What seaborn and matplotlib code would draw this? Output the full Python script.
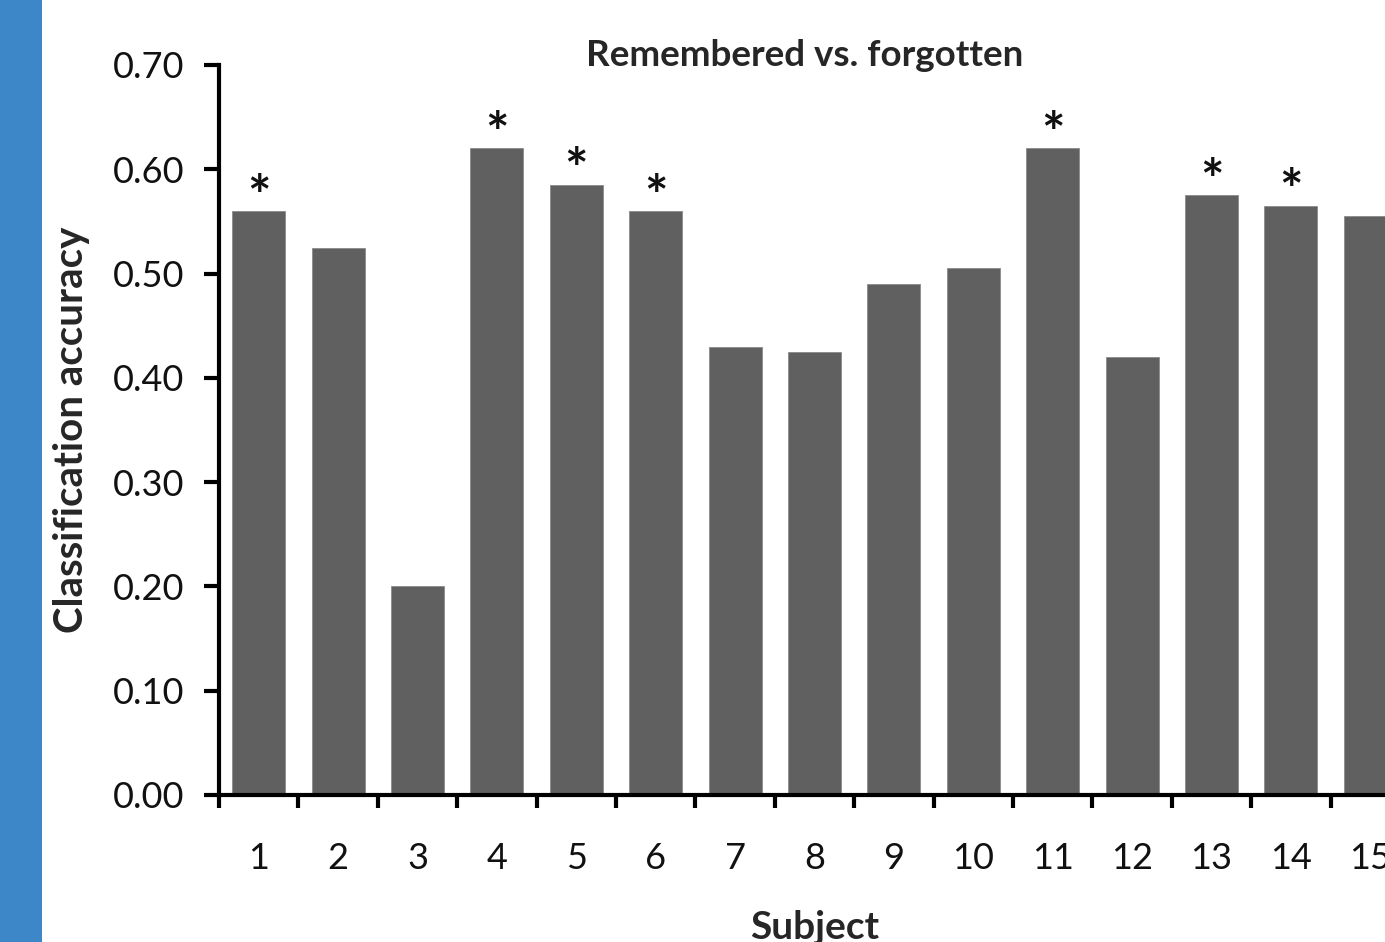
import numpy as np
import pandas as pd
import matplotlib
matplotlib.use("Agg")
import matplotlib.pyplot as plt
from matplotlib.patches import Rectangle
import seaborn as sns

subjects = [str(i) for i in range(1, 16)]
accuracy = [0.56, 0.525, 0.20, 0.62, 0.585, 0.56, 0.43, 0.425, 0.49, 0.505,
            0.62, 0.42, 0.575, 0.565, 0.555]
significant = [True, False, False, True, True, True, False, False, False, False,
               True, False, True, True, False]
yticks = [0.0, 0.1, 0.2, 0.3, 0.4, 0.5, 0.6, 0.7]

sns.set_theme(style="white")
plt.rcParams['font.family'] = ['Lato', 'DejaVu Sans']

df = pd.DataFrame({"Subject": subjects, "Accuracy": accuracy})

fig = plt.figure(figsize=(13.85, 9.42), dpi=100)
fig.patch.set_facecolor("white")
# blue strip on the left
fig.patches.append(Rectangle((0, 0), 42 / 1385, 1, transform=fig.transFigure,
                             facecolor="#3d87c9", edgecolor="none", zorder=0))

ax = fig.add_axes([219 / 1385, 147 / 942, 1191 / 1385, 730 / 942])
sns.barplot(data=df, x="Subject", y="Accuracy", color="#606060", saturation=1,
            width=0.67, ax=ax, edgecolor="#8a8a8a", linewidth=0.6)

for i, (v, s) in enumerate(zip(accuracy, significant)):
    if s:
        ax.text(i, v - 0.012, "*", ha="center", va="bottom", fontsize=40,
                fontweight="bold", color="#111111")

ax.set_xlim(-0.5, len(subjects) - 0.5)
ax.set_ylim(0, 0.70)
ax.set_yticks(yticks)
ax.set_yticklabels([f"{t:.2f}" for t in yticks], fontsize=26)
ax.set_xticks(range(len(subjects)))
ax.set_xticklabels(subjects, fontsize=26)
ax.set_xticks(np.arange(-0.5, len(subjects), 1.0), minor=True)
ax.tick_params(axis="x", which="major", length=0, pad=34, colors="#111111")
ax.tick_params(axis="x", which="minor", length=9, width=3, direction="out",
               bottom=True, color="black")
ax.tick_params(axis="y", which="major", length=11, width=3, direction="out",
               left=True, pad=14, colors="black", labelcolor="#111111")

for side in ["top", "right"]:
    ax.spines[side].set_visible(False)
for side in ["left", "bottom"]:
    ax.spines[side].set_visible(True)
    ax.spines[side].set_linewidth(3)
    ax.spines[side].set_color("black")

ax.set_xlabel("Subject", fontsize=28, fontweight="bold", labelpad=25)
ax.set_ylabel("Classification accuracy", fontsize=29, fontweight="bold", labelpad=16)
fig.text(805 / 1385, 1 - 55 / 942, "Remembered vs. forgotten", ha="center",
         va="center", fontsize=26.5, fontweight="bold")

fig.savefig("out.png", dpi=100)
